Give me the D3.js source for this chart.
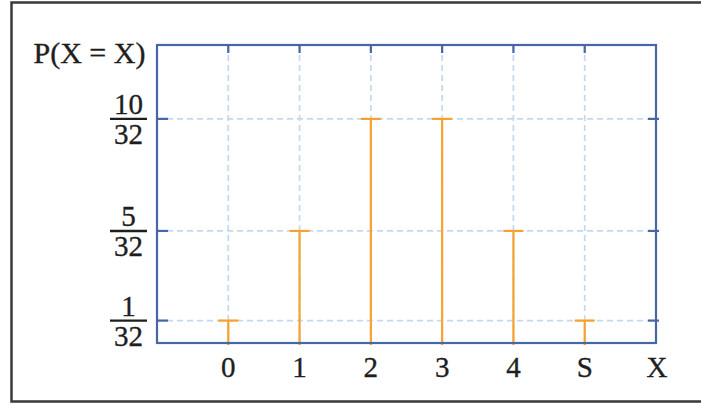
<!DOCTYPE html>
<html>
<head>
<meta charset="utf-8">
<script src="https://cdn.jsdelivr.net/npm/d3@7"></script>
<style>
  html, body { margin: 0; padding: 0; background: #fff; }
  svg { display: block; }
  text { font-family: "Liberation Serif", "DejaVu Serif", serif; fill: #1e1e1e; stroke: #1e1e1e; stroke-width: 0.35px; }
</style>
</head>
<body>
<svg id="chart" width="701" height="405"></svg>
<script>
// Binomial distribution, n = 5, p = 1/2
const outcomes = [0, 1, 2, 3, 4, 5];
const outcomeLabels = ["0", "1", "2", "3", "4", "S"];
const numerators = [1, 5, 10, 10, 5, 1];
const denominator = 32;
const yTickNumerators = [1, 5, 10];
const yAxisTitle = "P(X = X)";
const xAxisTitle = "X";

const svg = d3.select("#chart");
const W = 701, H = 405;
const box = { left: 157, right: 656, top: 45, bottom: 343 };

const orange = "#F7A12E";
const axisBlue = "#4766A6";
const gridBlue = "#C4D9F0";

// outer frame (open on the right, where it runs past the page edge)
svg.append("path")
  .attr("d", `M${W + 5},2.5 H11.5 V401.5 H${W + 5}`)
  .attr("fill", "none")
  .attr("stroke", "#3a3a3a")
  .attr("stroke-width", 2.5);

const x = d3.scaleLinear().domain([-1, 6]).range([box.left, box.right]);
const y = d3.scaleLinear().domain([0, 0.4155]).range([box.bottom, box.top]);

// dashed grid
const grid = svg.append("g").attr("stroke", gridBlue).attr("stroke-width", 1.7)
  .attr("stroke-dasharray", "6,4");
grid.selectAll("line.v").data(outcomes).join("line")
  .attr("class", "v")
  .attr("x1", d => x(d)).attr("x2", d => x(d))
  .attr("y1", box.top).attr("y2", box.bottom);
grid.selectAll("line.h").data(yTickNumerators).join("line")
  .attr("class", "h")
  .attr("x1", box.left).attr("x2", box.right)
  .attr("y1", d => y(d / denominator)).attr("y2", d => y(d / denominator));

// stems with caps
const stems = svg.append("g").attr("stroke", orange).attr("stroke-width", 2.2);
stems.selectAll("line.stem").data(outcomes).join("line")
  .attr("class", "stem")
  .attr("x1", d => x(d)).attr("x2", d => x(d))
  .attr("y1", (d, i) => y(numerators[i] / denominator))
  .attr("y2", box.bottom + 2);
stems.selectAll("line.cap").data(outcomes).join("line")
  .attr("class", "cap")
  .attr("x1", d => x(d) - 10).attr("x2", d => x(d) + 10)
  .attr("y1", (d, i) => y(numerators[i] / denominator))
  .attr("y2", (d, i) => y(numerators[i] / denominator));

// plot frame and ticks
const frame = svg.append("g").attr("stroke", axisBlue).attr("stroke-width", 2.2).attr("fill", "none");
frame.append("rect")
  .attr("x", box.left).attr("y", box.top)
  .attr("width", box.right - box.left).attr("height", box.bottom - box.top);
frame.selectAll("line.tt").data(outcomes).join("line")
  .attr("class", "tt")
  .attr("x1", d => x(d)).attr("x2", d => x(d))
  .attr("y1", box.top).attr("y2", box.top + 8);
frame.selectAll("line.lt").data(yTickNumerators).join("line")
  .attr("class", "lt")
  .attr("x1", box.left).attr("x2", box.left + 11)
  .attr("y1", d => y(d / denominator)).attr("y2", d => y(d / denominator));
frame.selectAll("line.rt").data(yTickNumerators).join("line")
  .attr("class", "rt")
  .attr("x1", box.right - 8).attr("x2", box.right + 3)
  .attr("y1", d => y(d / denominator)).attr("y2", d => y(d / denominator));

// x tick labels
const fs = 29;
svg.append("g").selectAll("text").data(outcomes).join("text")
  .attr("x", d => x(d)).attr("y", 377)
  .attr("text-anchor", "middle")
  .attr("font-size", fs)
  .text((d, i) => outcomeLabels[i]);
svg.append("text")
  .attr("x", x(6) + 1).attr("y", 377)
  .attr("text-anchor", "middle")
  .attr("font-size", fs)
  .text(xAxisTitle);

// y tick labels as stacked fractions
const fx = 128.5;
const frac = svg.append("g").selectAll("g").data(yTickNumerators).join("g")
  .attr("transform", d => `translate(${fx},${y(d / denominator)})`);
frac.append("line")
  .attr("x1", -18.5).attr("x2", 18.5).attr("y1", 0).attr("y2", 0)
  .attr("stroke", "#1e1e1e").attr("stroke-width", 2.4);
frac.append("text")
  .attr("y", -5).attr("text-anchor", "middle").attr("font-size", fs)
  .text(d => d);
frac.append("text")
  .attr("y", 25).attr("text-anchor", "middle").attr("font-size", fs)
  .text(denominator);

// y axis title
svg.append("text")
  .attr("x", 89.5).attr("y", 63)
  .attr("text-anchor", "middle")
  .attr("font-size", 30)
  .text(yAxisTitle);
</script>
</body>
</html>
